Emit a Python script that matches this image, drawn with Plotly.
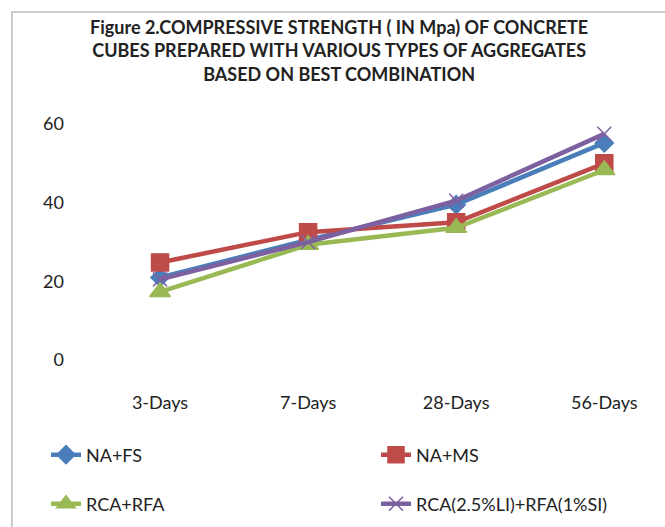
"""Compressive strength of concrete cubes by aggregate type — line chart."""

import plotly.graph_objects as go

# Curing ages (categories)
AGES = ["3-Days", "7-Days", "28-Days", "56-Days"]

# Compressive strength, MPa
NA_FS = [21.0, 30.5, 39.5, 55.2]
NA_MS = [24.8, 32.5, 35.0, 50.0]
RCA_RFA = [17.3, 29.3, 33.6, 48.3]
RCA_LI_RFA_SI = [20.5, 30.0, 40.5, 57.5]

Y_TICKS = [0, 20, 40, 60]

FONT = "Lato, 'Open Sans', sans-serif"

# name, values, colour, marker symbol, marker size
SERIES = [
    ("NA+FS", NA_FS, "#4A7EBB", "diamond", 14),
    ("NA+MS", NA_MS, "#BE4B48", "square", 17),
    ("RCA+RFA", RCA_RFA, "#98B954", "triangle-up", 18),
    ("RCA(2.5%LI)+RFA(1%SI)", RCA_LI_RFA_SI, "#7D60A0", "x-thin", 14),
]

# legend slot (left px, centre px) for each series, 2 x 2 grid as in the original
LEGEND_SLOTS = [(46, 455), (376, 455), (46, 504), (376, 504)]

fig = go.Figure()
legends = {}
for i, (name, values, color, symbol, size) in enumerate(SERIES):
    key = "legend" if i == 0 else f"legend{i + 1}"
    fig.add_trace(go.Scatter(
        x=AGES, y=values, mode="lines+markers", name=name, legend=key,
        line=dict(color=color, width=4.5),
        marker=dict(symbol=symbol, size=size, color=color,
                    line=dict(color=color, width=1.5)),
    ))
    left, mid = LEGEND_SLOTS[i]
    legends[key] = dict(
        orientation="h", xref="container", yref="container",
        x=left / 665, xanchor="left", y=1 - mid / 527, yanchor="middle",
        font=dict(family=FONT, size=18, color="#222222"),
        bgcolor="rgba(0,0,0,0)",
    )

fig.update_layout(
    width=665, height=527,
    paper_bgcolor="white", plot_bgcolor="white",
    font=dict(family=FONT, size=18, color="#222222"),
    margin=dict(l=86, r=0, t=110, b=167),
    title=dict(
        text=("<b>Figure 2.COMPRESSIVE STRENGTH ( IN Mpa) OF CONCRETE<br>"
              "CUBES PREPARED WITH VARIOUS TYPES OF AGGREGATES<br>"
              "BASED ON BEST COMBINATION</b>"),
        x=0.51, xanchor="center", xref="container",
        y=1 - 34 / 527, yanchor="top", yref="container",
        font=dict(family=FONT, size=18, color="#222222"),
    ),
    xaxis=dict(
        type="category", range=[-0.5, 3.41],
        showgrid=False, showline=False, zeroline=False,
        ticks="", ticklabelstandoff=30,
    ),
    yaxis=dict(
        range=[0, 63.56], tickvals=Y_TICKS,
        showgrid=False, showline=False, zeroline=False,
        ticks="", ticklabelstandoff=21,
    ),
    showlegend=True,
    **legends,
    shapes=[dict(
        type="rect", xref="paper", yref="paper",
        x0=-0.128, x1=1.1, y0=-0.75, y1=1.392,
        line=dict(color="#BBBBBB", width=1.5),
    )],
)

# page body margin off so the figure sits at the window's top-left corner
fig.write_html("out.html", config={"displayModeBar": False},
               post_script="document.body.style.margin='0';")
